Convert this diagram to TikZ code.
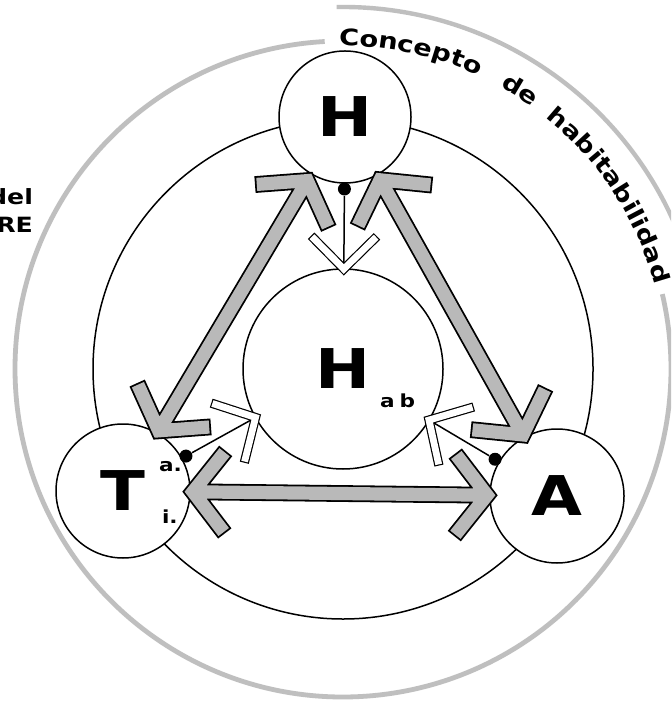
\documentclass[tikz,border=0pt]{standalone}
\usepackage{fontspec}
\newfontfamily\lblfont{DejaVu Sans}[FakeStretch=1.2]
\newcommand\arcfont{\lblfont\bfseries\fontsize{11.35}{12}\selectfont}
\usetikzlibrary{calc,decorations.text}

\begin{document}
\begin{tikzpicture}[x=0.5pt,y=-0.5pt,
 thinline/.style={line width=0.75pt},
 ring/.style={circle,draw,line width=0.75pt,fill=white,inner sep=0pt,
  font=\lblfont\bfseries\fontsize{27.4}{28}\selectfont},
 dot/.style={circle,fill=black,inner sep=0pt,minimum size=6.5pt},
 grayarrow/.style={draw=black,line width=0.9pt,double=gray!55,
  double distance=6.6pt,line cap=rect,line join=miter},
 openhead/.style={draw=black,line width=0.6pt,double=white,
  double distance=3.4pt,line cap=rect,line join=miter},
 small/.style={font=\lblfont\bfseries\fontsize{9}{9}\selectfont},
 side/.style={font=\lblfont\bfseries\fontsize{10.5}{11}\selectfont,anchor=base east}]
 \fill[white] (0,0) rectangle (671,704);
 \useasboundingbox (0,0) rectangle (671,704);
 \clip (0,0) rectangle (671,704);

 % outer ring
 \draw[gray!50,line width=2.4pt] (343,369) ++(266.8:328)
  arc[start angle=266.8,end angle=-13.2,radius=328];
 \draw[gray!50,line width=2.2pt] (343,369) ++(269:362)
  arc[start angle=269,end angle=340,radius=362];
 \path[decorate,decoration={text along path,text={|\arcfont|Concepto}}]
  (343,369) ++(269.3:323) arc[start angle=269.3,end angle=300,radius=323];
 \path[decorate,decoration={text along path,text={|\arcfont|de}}]
  (343,369) ++(299.1:323) arc[start angle=299.1,end angle=310,radius=323];
 \path[decorate,decoration={text along path,text={|\arcfont|habitabilidad}}]
  (343,369) ++(308.9:323) arc[start angle=308.9,end angle=352,radius=323];
 \node[side] (del) at (40,205) {del};
 \node[side] (re) at (40,233) {RE};

 \draw[thinline] (343,369) circle[radius=250];

 \node[ring,minimum size=66pt] (H) at (345,117) {H};
 \node[ring,minimum size=67pt] (T) at (123,491) {T};
 \node[ring,minimum size=67pt] (A) at (557,496) {A};
 \node[ring,minimum size=100pt] (Hab) at (343,369) {H};
 \node[small,anchor=base west] (ab) at (373,407) {a\hspace{2.5pt}b};
 \node[small,anchor=base west] (sup) at (152,471) {a.};
 \node[small,anchor=base west] (sub) at (155,523) {i.};

 % gray double arrows
 \coordinate (hT) at ($(H.center)!37pt!(T.center)$);
 \coordinate (tH) at ($(T.center)!35pt!(H.center)$);
 \coordinate (hA) at ($(H.center)!36pt!(A.center)$);
 \coordinate (aH) at ($(A.center)!35pt!(H.center)$);
 \coordinate (tA) at ($(T.center)!35pt!(A.center)$);
 \coordinate (aT) at ($(A.center)!35pt!(T.center)$);
 \draw[grayarrow] ($(hT)!22pt!55:(tH)$) -- (hT) -- ($(hT)!22pt!-55:(tH)$)
  ($(hT)!4pt!(tH)$) -- ($(tH)!4pt!(hT)$)
  ($(tH)!22pt!55:(hT)$) -- (tH) -- ($(tH)!22pt!-55:(hT)$);
 \draw[grayarrow] ($(hA)!22pt!55:(aH)$) -- (hA) -- ($(hA)!22pt!-55:(aH)$)
  ($(hA)!4pt!(aH)$) -- ($(aH)!4pt!(hA)$)
  ($(aH)!22pt!55:(hA)$) -- (aH) -- ($(aH)!22pt!-55:(hA)$);
 \draw[grayarrow] ($(tA)!22pt!52:(aT)$) -- (tA) -- ($(tA)!22pt!-52:(aT)$)
  ($(tA)!4pt!(aT)$) -- ($(aT)!4pt!(tA)$)
  ($(aT)!22pt!52:(tA)$) -- (aT) -- ($(aT)!22pt!-52:(tA)$);

 % thin links into Hab
 \node[dot] (dH) at ($(H.center)!36pt!(Hab.center)$) {};
 \node[dot] (dT) at ($(T.center)!36pt!(Hab.center)$) {};
 \node[dot] (dA) at ($(A.center)!36pt!(Hab.center)$) {};
 \draw[thinline] (dH) -- (Hab);
 \draw[thinline] (dT) -- (Hab);
 \draw[thinline] (dA) -- (Hab);
 \coordinate (vH) at ($(Hab.center)!50pt!(dH)$);
 \coordinate (vT) at ($(Hab.center)!50pt!(dT)$);
 \coordinate (vA) at ($(Hab.center)!50pt!(dA)$);
 \draw[openhead] ($(vH)!21pt!45:(dH)$) -- (vH) -- ($(vH)!21pt!-45:(dH)$);
 \draw[openhead] ($(vT)!21pt!47:(dT)$) -- (vT) -- ($(vT)!21pt!-47:(dT)$);
 \draw[openhead] ($(vA)!21pt!47:(dA)$) -- (vA) -- ($(vA)!21pt!-47:(dA)$);
\end{tikzpicture}
\end{document}
